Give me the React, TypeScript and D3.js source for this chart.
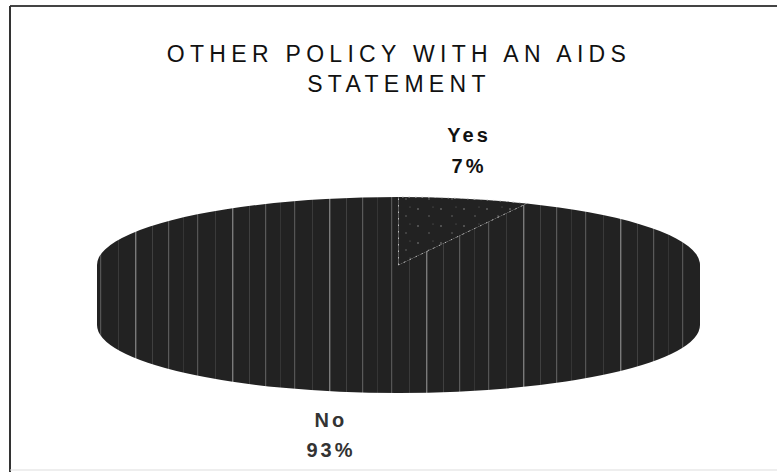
import React from "react";
import * as d3 from "d3";

const categories = ["Yes", "No"];
const values = [7, 93];
const percentLabels = ["7%", "93%"];
const titleLines = ["OTHER POLICY WITH AN AIDS", "STATEMENT"];

const W = 777;
const H = 472;
const cx = 398.5;
const cy = 265;
const rx = 301.5;
const ry = 68;
const depth = 60;

function pt(a: number, dy = 0): [number, number] {
  return [cx + rx * Math.sin(a), cy + dy - ry * Math.cos(a)];
}

export default function App() {
  const pie = d3.pie<number>().sort(null).value((d) => d);
  const arcs = pie(values);

  const topPath = (a0: number, a1: number) => {
    const p0 = pt(a0);
    const p1 = pt(a1);
    const large = a1 - a0 > Math.PI ? 1 : 0;
    return `M${cx},${cy}L${p0[0]},${p0[1]}A${rx},${ry} 0 ${large} 1 ${p1[0]},${p1[1]}Z`;
  };
  // wall extends up to the ellipse centre line so the top face fully overlaps it (no seam)
  const wallPath = (a0: number, a1: number) => {
    const b0 = Math.max(a0, Math.PI / 2);
    const b1 = Math.min(a1, (3 * Math.PI) / 2);
    if (b1 <= b0) return null;
    const t0 = pt(b0);
    const t1 = pt(b1);
    const u0 = pt(b0, depth);
    const u1 = pt(b1, depth);
    return `M${cx},${cy}L${t0[0]},${t0[1]}L${u0[0]},${u0[1]}A${rx},${ry} 0 0 1 ${u1[0]},${u1[1]}L${t1[0]},${t1[1]}Z`;
  };

  const fills = ["url(#dots)", "url(#streaks)"];

  return (
    <svg
      width={W}
      height={H}
      style={{ position: "absolute", left: 0, top: 0, background: "#fff" }}
      fontFamily="'Liberation Sans', Arial, sans-serif"
    >
      <defs>
        <pattern id="streaks" patternUnits="userSpaceOnUse" width={97} height={20}>
          <rect width={97} height={20} fill="#222" />
          <rect x={3} width={1.2} height={20} fill="#555" />
          <rect x={21} width={1} height={20} fill="#3a3a3a" />
          <rect x={38} width={1.4} height={20} fill="#7a7a7a" />
          <rect x={55} width={1} height={20} fill="#404040" />
          <rect x={71} width={1.2} height={20} fill="#5a5a5a" />
          <rect x={86} width={1} height={20} fill="#353535" />
        </pattern>
        <pattern id="dots" patternUnits="userSpaceOnUse" width={23} height={17}>
          <rect width={23} height={17} fill="#222" />
          <circle cx={4} cy={5} r={0.8} fill="#888" />
          <circle cx={15} cy={12} r={0.7} fill="#777" />
          <circle cx={19} cy={3} r={0.6} fill="#666" />
        </pattern>
      </defs>

      <line x1={10} y1={6} x2={W} y2={6} stroke="#444" strokeWidth={2} />
      <line x1={10} y1={6} x2={10} y2={H} stroke="#333" strokeWidth={2} />
      <line x1={10} y1={470} x2={W} y2={470} stroke="#ddd" strokeWidth={1} />

      {titleLines.map((t, i) => (
        <text
          key={t}
          x={399}
          y={62 + i * 30}
          textAnchor="middle"
          fontSize={23}
          letterSpacing={5.3}
          fill="#111"
        >
          {t}
        </text>
      ))}

      {arcs.map((a, i) => {
        const d = wallPath(a.startAngle, a.endAngle);
        return d ? <path key={"w" + i} d={d} fill={fills[i]} /> : null;
      })}
      {arcs.map((a, i) => (
        <path key={"t" + i} d={topPath(a.startAngle, a.endAngle)} fill={fills[i]} />
      ))}
      {arcs.map((a, i) =>
        i === 0 ? (
          <path
            key={"e" + i}
            d={topPath(a.startAngle, a.endAngle)}
            fill="none"
            stroke="#bbb"
            strokeWidth={1}
            strokeDasharray="1.5,5"
          />
        ) : null
      )}

      {arcs.map((a, i) => {
        const mid = (a.startAngle + a.endAngle) / 2;
        const x = cx + rx * Math.sin(mid) * 1.05;
        const upper = Math.cos(mid) > 0;
        const edgeY = upper ? cy - ry * Math.cos(mid) : cy + depth - ry * Math.cos(mid);
        const b1 = upper ? edgeY - 25.6 - 31 : edgeY + 35.6;
        return (
          <g key={"l" + i} fontWeight="bold" fontSize={20} letterSpacing={3} fill={upper ? "#111" : "#333"} textAnchor="middle">
            <text x={x + 1.5} y={b1}>{categories[i]}</text>
            <text x={x + 1.5} y={b1 + (upper ? 31 : 30)}>{percentLabels[i]}</text>
          </g>
        );
      })}
    </svg>
  );
}
